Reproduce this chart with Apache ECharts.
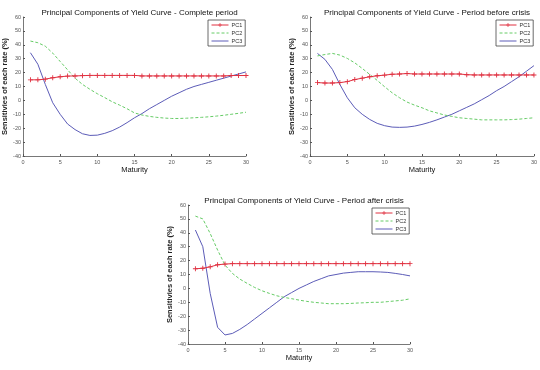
<!DOCTYPE html>
<html>
<head>
<meta charset="utf-8">
<script src="https://cdn.jsdelivr.net/npm/echarts@6/dist/echarts.min.js"></script>
<style>
  html, body { margin: 0; padding: 0; background: #fff; }
  #chart { width: 540px; height: 370px; }
</style>
</head>
<body>
<div id="chart"></div>
<script>
// maturities (years)
var maturity = [1, 2, 3, 4, 5, 6, 7, 8, 9, 10, 11, 12, 13, 14, 15,
                16, 17, 18, 19, 20, 21, 22, 23, 24, 25, 26, 27, 28, 29, 30];

// complete period
var pc1Complete = [14.8, 14.8, 15.3, 16.3, 17, 17.5, 17.6, 17.8, 18, 18, 18, 18, 18, 18, 18,
                   17.6, 17.6, 17.6, 17.6, 17.6, 17.6, 17.6, 17.6, 17.6, 17.6, 17.6, 17.6, 17.9, 17.9, 17.9];
var pc2Complete = [42.7, 41.5, 39, 34, 28, 22, 16, 11.5, 8, 4.8, 2, -1, -3.4, -6, -9,
                   -10.5, -11.5, -12.2, -12.7, -13, -13, -12.8, -12.5, -12.2, -11.8, -11.3, -10.7, -10, -9.3, -8.5];
var pc3Complete = [34.3, 26, 11.5, -1.7, -10, -17, -21, -24, -25.2, -25, -23.7, -21.8, -19.2, -16, -12.5,
                   -9.5, -6, -3, 0, 3, 5.5, 8, 10, 11.5, 13, 14.5, 16, 17.5, 19, 20.5];

// period before crisis
var pc1Before = [12.8, 12.5, 12.5, 12.8, 13.5, 15, 16, 17, 17.7, 18.2, 18.8, 19, 19.3, 19, 19,
                 19, 19, 19, 19, 19, 18.5, 18.3, 18.3, 18.3, 18.3, 18.3, 18.3, 18.3, 18.3, 18.3];
var pc2Before = [32, 33, 33.8, 32.6, 30.2, 27, 23, 18.7, 14.4, 9.8, 5.5, 1.9, -1.2, -3.4, -5.3,
                 -7.5, -9, -10.5, -11.5, -12.5, -13, -13.5, -14, -14, -14, -14, -13.8, -13.5, -13, -12.5];
var pc3Before = [33.8, 29.5, 22.3, 11.5, 1.9, -5.3, -10, -13.7, -16.5, -18.2, -19.2, -19.4, -19.2, -18.5, -17.3,
                 -15.8, -14, -12, -10, -7.5, -5, -2.5, 0.5, 3.5, 7, 10, 13.5, 17, 21, 25];

// period after crisis
var pc1After = [14.1, 14.5, 15.5, 17, 17.5, 17.8, 17.8, 17.8, 17.8, 17.8, 17.8, 17.8, 17.8, 17.8, 17.8,
                17.8, 17.8, 17.8, 17.8, 17.8, 17.8, 17.8, 17.8, 17.8, 17.8, 17.8, 17.8, 17.8, 17.8, 17.8];
var pc2After = [52, 50, 39.5, 27.6, 16.8, 10.8, 6.7, 3.6, 0.7, -1.7, -3.6, -5.3, -6.5, -7.4, -8.4,
                -9.3, -10, -10.5, -11, -11, -11, -10.8, -10.5, -10.3, -10, -10, -9.5, -9, -8.5, -7.5];
var pc3After = [42, 30, -3.6, -28, -33.5, -32.4, -29.5, -26, -22, -18, -14, -10, -6, -3, 0,
                2.5, 5, 7, 9, 10, 11, 11.5, 12, 12, 12, 11.8, 11.5, 10.8, 10, 9];

var titles = [
  'Principal Components of Yield Curve - Complete period',
  'Principal Components of Yield Curve - Period before crisis',
  'Principal Components of Yield Curve - Period after crisis'
];
var seriesNames = ['PC1', 'PC2', 'PC3'];

var panels = [
  [pc1Complete, pc2Complete, pc3Complete],
  [pc1Before, pc2Before, pc3Before],
  [pc1After, pc2After, pc3After]
];

// plot boxes in pixels
var boxes = [
  {left: 23, top: 17, width: 223, height: 139},
  {left: 310, top: 17, width: 224, height: 139},
  {left: 188, top: 205, width: 222, height: 139}
];

var colors = ['#e03040', '#66cc66', '#5c5cb8'];
var plusMark = 'path://M-0.18,-1H0.18V-0.18H1V0.18H0.18V1H-0.18V0.18H-1V-0.18H-0.18Z';

function pairs(ys) {
  return maturity.map(function (m, i) { return [m, ys[i]]; });
}

var chart = echarts.init(document.getElementById('chart'));

var option = {
  animation: false,
  backgroundColor: '#fff',
  title: [],
  legend: [],
  grid: [],
  xAxis: [],
  yAxis: [],
  series: []
};

boxes.forEach(function (b, k) {
  option.title.push({
    text: titles[k],
    left: b.left + b.width / 2,
    top: b.top - 13,
    textAlign: 'center',
    textStyle: {fontSize: 8, fontWeight: 'normal', color: '#111', fontFamily: 'Liberation Sans'}
  });
  option.grid.push({left: b.left, top: b.top, width: b.width, height: b.height});
  option.xAxis.push({
    type: 'value', gridIndex: k, min: 0, max: 30, interval: 5,
    name: 'Maturity', nameLocation: 'middle', nameGap: 10,
    nameTextStyle: {fontSize: 7.5, color: '#111', fontFamily: 'Liberation Sans'},
    axisLine: {onZero: false, lineStyle: {color: '#555', width: 0.8}},
    axisTick: {inside: true, length: 2, lineStyle: {color: '#555'}},
    axisLabel: {fontSize: 5.5, color: '#555', margin: 3, fontFamily: 'Liberation Sans'},
    splitLine: {show: false}
  });
  option.yAxis.push({
    type: 'value', gridIndex: k, min: -40, max: 60, interval: 10,
    name: 'Sensitivies of each rate (%)', nameLocation: 'middle', nameGap: 13,
    nameTextStyle: {fontSize: 7.5, fontWeight: 'bold', color: '#222', fontFamily: 'Liberation Sans'},
    axisLine: {show: true, onZero: false, lineStyle: {color: '#555', width: 0.8}},
    axisTick: {show: true, inside: true, length: 2, lineStyle: {color: '#555'}},
    axisLabel: {fontSize: 5.5, color: '#555', margin: 2, fontFamily: 'Liberation Sans'},
    splitLine: {show: false}
  });
  option.legend.push({
    data: [
      {name: 'PC1'},
      {name: 'PC2', itemStyle: {opacity: 0}},
      {name: 'PC3', itemStyle: {opacity: 0}}
    ],
    orient: 'vertical',
    left: b.left + b.width - 38,
    top: b.top + 3,
    width: 38,
    backgroundColor: '#fff',
    borderColor: '#444',
    borderWidth: 0.8,
    borderRadius: 0,
    padding: [2, 3, 2, 3],
    itemWidth: 17,
    itemHeight: 5,
    itemGap: 2,
    selectedMode: false,
    lineStyle: {width: 1},
    textStyle: {fontSize: 5.5, color: '#333', fontFamily: 'Liberation Sans', padding: [0, 0, 0, -2]}
  });
  panels[k].forEach(function (ys, j) {
    var s = {
      name: seriesNames[j],
      type: 'line',
      xAxisIndex: k,
      yAxisIndex: k,
      data: pairs(ys),
      smooth: false,
      color: colors[j],
      lineStyle: {width: 1, color: colors[j], type: j === 1 ? [3, 2] : 'solid'},
      showSymbol: j === 0,
      symbol: j === 0 ? plusMark : 'none',
      symbolSize: 5,
      itemStyle: {color: colors[j]},
      z: 3 - j
    };
    option.series.push(s);
  });
});

option && chart.setOption(option);
</script>
</body>
</html>
